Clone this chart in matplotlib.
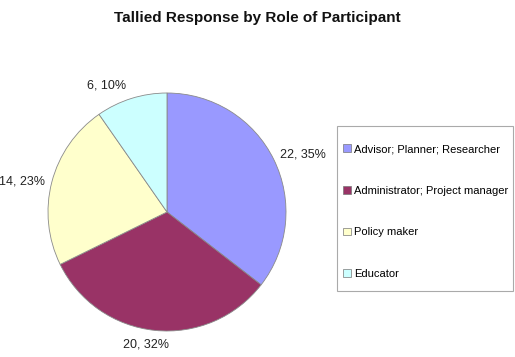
import numpy as np
import matplotlib.pyplot as plt
from matplotlib.patches import Rectangle

plt.rcParams['font.family'] = ['Liberation Sans', 'DejaVu Sans']

roles = ["Advisor; Planner; Researcher", "Administrator; Project manager",
         "Policy maker", "Educator"]
counts = [22, 20, 14, 6]
colors = ["#9999FF", "#993366", "#FFFFCC", "#CCFFFF"]

total = sum(counts)
labels = [f"{c}, {round(100 * c / total)}%" for c in counts]

fig = plt.figure(figsize=(5.15, 3.57), dpi=100)
fig.patch.set_facecolor("white")

# pie axes placed in pixels: centre (167, 212), radius 119
ax = fig.add_axes([48 / 515, 26 / 357, 238 / 515, 238 / 357])
wedges, texts = ax.pie(counts, colors=colors, labels=labels, startangle=90,
                       counterclock=False, radius=1.0,
                       wedgeprops=dict(edgecolor="#8a8a8a", linewidth=0.6),
                       textprops=dict(fontsize=9, color="#222222"))
ax.set_xlim(-1, 1)
ax.set_ylim(-1, 1)
ax.set_aspect("equal")

# Excel-style label placement: distance from centre and small angle shift
dists = [1.24, 1.13, 1.245, 1.18]
shifts = [-3.4, -3.0, 2.5, 8.0]
for w, t, d, s in zip(wedges, texts, dists, shifts):
    ang = np.deg2rad((w.theta1 + w.theta2) / 2 + s)
    t.set_position((d * np.cos(ang), d * np.sin(ang)))
    t.set_ha("center")
    t.set_va("center")

fig.text(0.5, 1 - 18 / 357, "Tallied Response by Role of Participant",
         ha="center", va="center", fontsize=11, fontweight="bold", color="#111111")

# legend frame drawn separately so padding matches the Excel box
fig.patches.append(Rectangle((337 / 515, 1 - 291 / 357), 176 / 515, 165 / 357,
                             transform=fig.transFigure, facecolor="none",
                             edgecolor="#aaaaaa", linewidth=0.8))
leg = fig.legend(wedges, roles, loc="upper left",
                 bbox_to_anchor=(343 / 515, 1 - 144 / 357),
                 fontsize=8, frameon=False, labelspacing=2.85, borderpad=0,
                 handlelength=0.7, handleheight=0.7, handletextpad=0.3,
                 borderaxespad=0)
for h in leg.legend_handles:
    h.set_edgecolor("#777777")
    h.set_linewidth(0.5)

fig.savefig("out.png", dpi=100)
